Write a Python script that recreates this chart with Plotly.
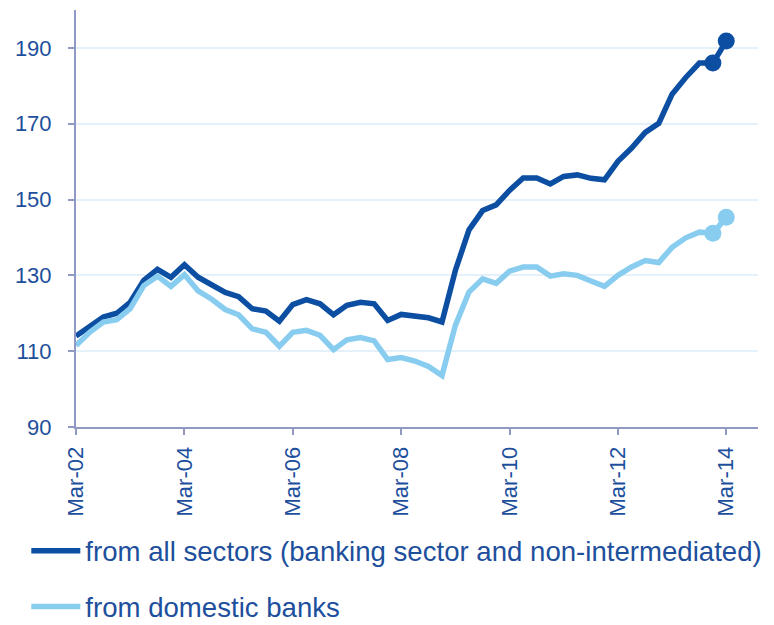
import pandas as pd
import plotly.graph_objects as go

# Quarterly observations, Mar-02 to Mar-14
quarters = pd.date_range("2002-03-01", "2014-03-01", freq="QS-MAR")

all_sectors = [
    114.0, 116.5, 119.0, 120.0, 122.9, 128.7, 131.6, 129.5, 132.8, 129.5,
    127.5, 125.5, 124.4, 121.2, 120.6, 117.9, 122.3, 123.6, 122.5, 119.6,
    122.1, 122.9, 122.5, 118.1, 119.7, 119.3, 118.8, 117.7, 131.3, 142.0,
    147.1, 148.6, 152.4, 155.7, 155.7, 154.1, 156.1, 156.5, 155.6, 155.2,
    160.1, 163.6, 167.7, 170.1, 177.8, 182.2, 186.0, 186.0, 191.8,
]
domestic_banks = [
    111.5, 115.0, 117.7, 118.3, 121.2, 127.3, 129.8, 127.1, 130.2, 125.9,
    123.7, 121.0, 119.6, 115.9, 115.0, 111.3, 115.0, 115.5, 114.2, 110.4,
    113.0, 113.6, 112.7, 107.8, 108.3, 107.4, 106.0, 103.6, 116.8, 125.6,
    129.1, 127.9, 131.1, 132.2, 132.2, 129.8, 130.4, 130.0, 128.5, 127.1,
    130.0, 132.2, 133.9, 133.4, 137.4, 139.9, 141.4, 141.1, 145.3,
]

series_names = [
    "from all sectors (banking sector and non-intermediated)",
    "from domestic banks",
]
series_colors = ["#0B4EA2", "#88CDF0"]
text_color = "#1D4F9C"
axis_color = "#8F99C3"
grid_color = "#E4F1FB"

fig = go.Figure()
for name, values, color in zip(series_names, [all_sectors, domestic_banks], series_colors):
    fig.add_trace(go.Scatter(
        x=quarters, y=values, name=name, mode="lines",
        line=dict(color=color, width=5.5),
        legendgroup=name,
    ))
    # highlight the two most recent quarters
    fig.add_trace(go.Scatter(
        x=quarters[-2:], y=values[-2:], mode="markers",
        marker=dict(color=color, size=17),
        showlegend=False, hoverinfo="skip", legendgroup=name,
    ))

fig.update_layout(
    width=774, height=625,
    margin=dict(l=76, r=16, t=10, b=198, autoexpand=False),
    paper_bgcolor="white", plot_bgcolor="white",
    font=dict(family="Liberation Sans, Arial, sans-serif", color=text_color, size=22),
    showlegend=True,
    legend=dict(
        xref="container", yref="container",
        x=0.034, y=0.158, xanchor="left", yanchor="top",
        font=dict(size=27.6, color=text_color),
        itemwidth=49, tracegroupgap=17,
        bgcolor="rgba(0,0,0,0)",
    ),
)

fig.update_xaxes(
    type="date",
    range=["2002-03-01", "2014-10-01"],
    tick0="2002-03-01", dtick="M24", tickformat="%b-%y",
    tickangle=-90,
    showline=True, linecolor=axis_color, linewidth=2,
    ticks="outside", ticklen=6, tickwidth=2, tickcolor=axis_color,
    ticklabelstandoff=3,
    showgrid=False, zeroline=False,
    tickfont=dict(size=22, color=text_color),
)
fig.update_yaxes(
    range=[90, 200],
    tick0=90, dtick=20,
    showline=True, linecolor=axis_color, linewidth=2,
    ticks="outside", ticklen=6, tickwidth=2, tickcolor=axis_color,
    ticklabelstandoff=12,
    showgrid=True, gridcolor=grid_color, gridwidth=2,
    zeroline=False,
    tickfont=dict(size=22, color=text_color),
)

fig.write_html("out.html")
